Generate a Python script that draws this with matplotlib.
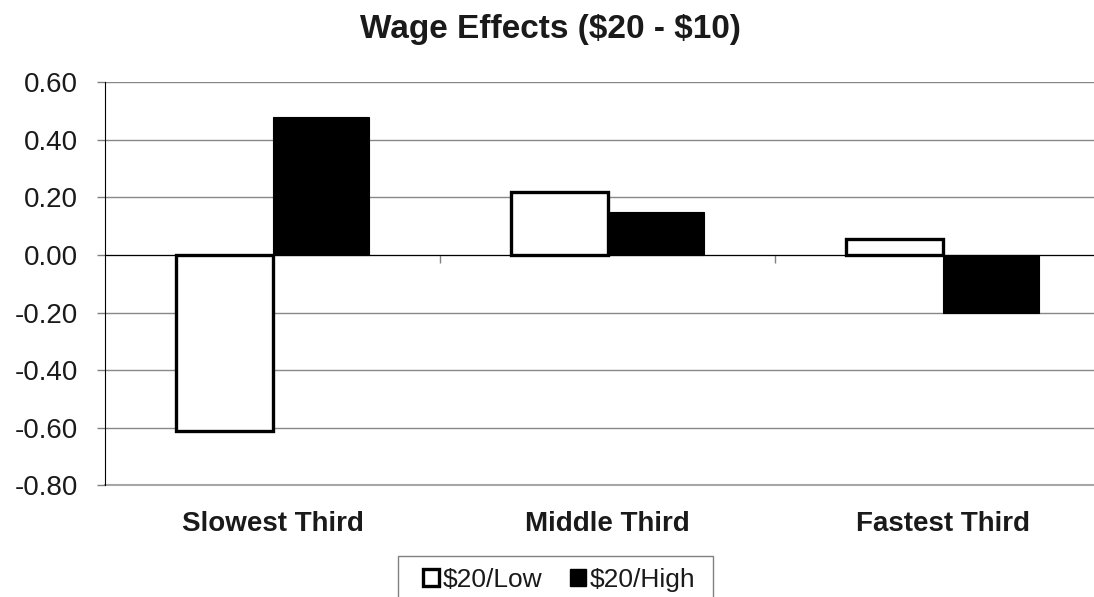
import numpy as np
import matplotlib
matplotlib.use('Agg')
import matplotlib.pyplot as plt
from matplotlib.patches import Patch, Rectangle
from matplotlib.ticker import FuncFormatter
from matplotlib.transforms import blended_transform_factory

plt.rcParams['font.family'] = ['Liberation Sans', 'DejaVu Sans']

# 数据
categories = ['Slowest Third', 'Middle Third', 'Fastest Third']
series_names = ['$20/Low', '$20/High']
low_values = [-0.61, 0.22, 0.055]
high_values = [0.48, 0.15, -0.20]
y_ticks = [-0.80, -0.60, -0.40, -0.20, 0.00, 0.20, 0.40, 0.60]

W, H = 1094, 597
fig = plt.figure(figsize=(W / 100, H / 100), dpi=100)
# 坐标区域（右侧超出画布，和原图一样被裁掉）
ax = fig.add_axes([105 / W, 1 - 485.4 / H, 1005 / W, 403.1 / H])

x = np.arange(len(categories))
bar_w = 0.287
ax.bar(x - bar_w / 2, low_values, bar_w, facecolor='white', edgecolor='black',
       linewidth=2.4, zorder=3)
ax.bar(x + bar_w / 2, high_values, bar_w, facecolor='black', edgecolor='black',
       linewidth=0.8, zorder=3)

ax.set_xlim(-0.5, 2.5)
ax.set_ylim(-0.8, 0.6)
ax.set_yticks(y_ticks)
ax.yaxis.set_major_formatter(FuncFormatter(lambda v, p: f"{v:.2f}"))
ax.tick_params(axis='y', length=5.8, width=1, color='#808080', pad=13.7,
               labelsize=20, labelcolor='#1a1a1a')
ax.grid(axis='y', color='#888888', linewidth=1, zorder=0)
# 最下面那条网格线
ax.axhline(y_ticks[0], color='#aaaaaa', linewidth=1.5, clip_on=False, zorder=1)

# x轴放在0的位置
ax.spines['bottom'].set_position(('data', 0))
ax.spines['bottom'].set_color('black')
ax.spines['bottom'].set_zorder(4)
ax.spines['top'].set_visible(False)
ax.spines['right'].set_visible(False)
ax.spines['left'].set_color('black')
ax.set_xticks([0.5, 1.5])
ax.set_xticklabels([])
ax.tick_params(axis='x', length=5.8, width=1, color='#808080', direction='out')

# 分类标签放在底部
trans = blended_transform_factory(ax.transData, ax.transAxes)
for xi, name in zip(x, categories):
    ax.text(xi, -0.1124, name, transform=trans, ha='center', va='baseline',
            fontsize=20, fontweight='bold', color='#1a1a1a')

fig.text(550 / W, 1 - 37.7 / H, 'Wage Effects ($20 - $10)', ha='center', va='baseline',
         fontsize=24, fontweight='bold', color='#1a1a1a', parse_math=False)

# 图例（外框单独画，下边被画布截断）
handles = [Patch(facecolor='white', edgecolor='black', linewidth=2.4),
           Patch(facecolor='black', edgecolor='black')]
leg = fig.legend(handles, series_names, loc='upper left',
                 bbox_to_anchor=(411 / W, 1 - 556 / H), ncol=2, fontsize=19,
                 handlelength=0.6, handleheight=0.6, handletextpad=0.15,
                 columnspacing=1.05, borderpad=0.45, borderaxespad=0,
                 frameon=False)
for t in leg.get_texts():
    t.set_color('#1a1a1a')
fig.patches.append(Rectangle((398 / W, -0.05), (713 - 398) / W, 0.05 + 1 - 556 / H,
                             transform=fig.transFigure, facecolor='none',
                             edgecolor='#808080', linewidth=1))

fig.savefig('out.png', dpi=100)
